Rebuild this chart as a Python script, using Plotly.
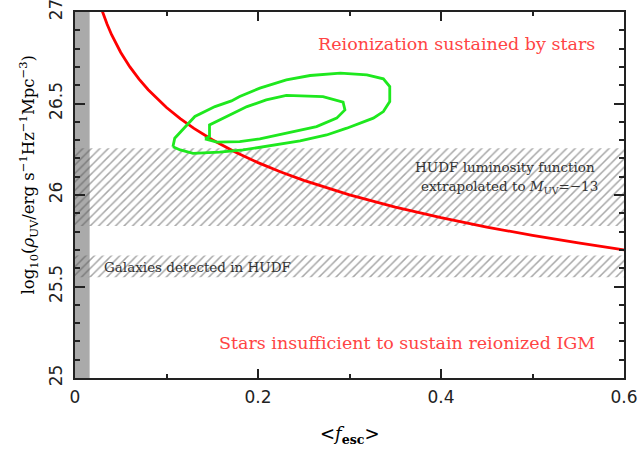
import plotly.graph_objects as go

# Red curve: stars sustaining reionization
curve_fesc = [0.029, 0.03, 0.035, 0.04, 0.045, 0.05, 0.06, 0.07, 0.08, 0.09, 0.10, 0.115, 0.13, 0.15, 0.175,
              0.2, 0.225, 0.25, 0.275, 0.3, 0.35, 0.4, 0.45, 0.5, 0.55, 0.6]
curve_logrho = [27.016, 27.001, 26.934, 26.876, 26.825, 26.779, 26.700, 26.633, 26.575, 26.524, 26.478, 26.417,
                26.364, 26.302, 26.235, 26.177, 26.126, 26.080, 26.039, 26.001, 25.934, 25.876, 25.825, 25.779,
                25.738, 25.700]

# Outer green contour
outer_fesc = [0.107, 0.109, 0.131, 0.153, 0.171, 0.180, 0.202, 0.231, 0.257, 0.290, 0.319, 0.337, 0.344, 0.344, 0.337, 0.326, 0.297, 0.275, 0.246, 0.220, 0.184, 0.158, 0.129, 0.115, 0.107]
outer_logrho = [26.264, 26.310, 26.429, 26.483, 26.514, 26.538, 26.584, 26.629, 26.653, 26.666, 26.657, 26.635, 26.593, 26.511, 26.456, 26.420, 26.365, 26.328, 26.296, 26.274, 26.246, 26.234, 26.228, 26.246, 26.264]

# Inner green contour
inner_fesc = [0.142, 0.147, 0.147, 0.166, 0.188, 0.209, 0.231, 0.271, 0.293, 0.295, 0.286, 0.264, 0.231, 0.202, 0.180, 0.155, 0.142]
inner_logrho = [26.307, 26.319, 26.383, 26.429, 26.483, 26.520, 26.544, 26.538, 26.507, 26.465, 26.420, 26.374, 26.338, 26.307, 26.292, 26.289, 26.307]

# Hatched bands (lower, upper) in log10 rho
band_extrap = [25.83, 26.255]
band_detected = [25.55, 25.67]
grey_band_fesc = [0.0, 0.016]

x_ticks = [0, 0.2, 0.4, 0.6]
x_ticklabels = ["0", "0.2", "0.4", "0.6"]
y_ticks = [25, 25.5, 26, 26.5, 27]
y_ticklabels = ["25", "25.5", "26", "26.5", "27"]

SERIF = "DejaVu Serif"

fig = go.Figure()

# grey vertical band
fig.add_shape(type="rect", xref="x", yref="y", x0=grey_band_fesc[0], x1=grey_band_fesc[1],
              y0=25, y1=27, fillcolor="#aaaaaa", line_width=0, layer="below")

for lo, hi in (band_extrap, band_detected):
    fig.add_trace(go.Scatter(
        x=[0, 0.6, 0.6, 0, 0], y=[lo, lo, hi, hi, lo],
        mode="lines", line=dict(width=0, color="rgba(0,0,0,0)"),
        fill="toself", fillcolor="rgba(0,0,0,0)",
        fillpattern=dict(shape="/", size=6, solidity=0.25, fgcolor="#505050"),
        hoverinfo="skip", showlegend=False))

fig.add_trace(go.Scatter(x=curve_fesc, y=curve_logrho, mode="lines",
                         line=dict(color="#ff0000", width=2.8), showlegend=False))
fig.add_trace(go.Scatter(x=outer_fesc, y=outer_logrho, mode="lines",
                         line=dict(color="#1ee81e", width=2.8), showlegend=False))
fig.add_trace(go.Scatter(x=inner_fesc, y=inner_logrho, mode="lines",
                         line=dict(color="#1ee81e", width=2.8), showlegend=False))

annots = [
    dict(x=0.57, y=26.826, text="Reionization sustained by stars", xanchor="right",
         font=dict(family=SERIF, size=17.5, color="#ff4444")),
    dict(x=0.57, y=25.19, text="Stars insufficient to sustain reionized IGM", xanchor="right",
         font=dict(family=SERIF, size=17.5, color="#ff4444")),
    dict(x=0.571, y=26.155, text="HUDF luminosity function", xanchor="right",
         font=dict(family=SERIF, size=13.5, color="#333333")),
    dict(x=0.574, y=26.044, text="extrapolated to <i>M</i><sub>UV</sub>=−13", xanchor="right",
         font=dict(family=SERIF, size=13.5, color="#333333")),
    dict(x=0.030, y=25.604, text="Galaxies detected in HUDF", xanchor="left",
         font=dict(family=SERIF, size=13.5, color="#333333")),
]
for a in annots:
    fig.add_annotation(xref="x", yref="y", showarrow=False, yanchor="middle", **a)

fig.add_annotation(xref="paper", yref="paper", x=-0.085, y=0.557, xanchor="center", yanchor="middle",
                   textangle=-90, showarrow=False,
                   text="log<sub>10</sub>(<i>ρ</i><sub>UV</sub>/erg s<sup>−1</sup>Hz<sup>−1</sup>Mpc<sup>−3</sup>)",
                   font=dict(family=SERIF, size=16.5, color="black"))
fig.add_annotation(xref="paper", yref="paper", x=0.5, y=-0.155, xanchor="center", yanchor="middle",
                   showarrow=False, text="&lt;<i>f</i><sub><b>esc</b></sub>&gt;",
                   font=dict(family=SERIF, size=18, color="black"))

fig.update_layout(
    width=640, height=454,
    margin=dict(l=75, r=16, t=12, b=76),
    plot_bgcolor="white", paper_bgcolor="white",
    showlegend=False,
)
fig.update_xaxes(range=[0, 0.6], tickvals=x_ticks, ticktext=x_ticklabels, automargin=False,
                 ticks="inside", ticklen=9, tickwidth=1.5, tickcolor="#222",
                 minor=dict(dtick=0.1, ticks="inside", ticklen=4, tickwidth=1.5, tickcolor="#222"),
                 showline=True, linecolor="#222", linewidth=2, mirror="allticks",
                 showgrid=False, zeroline=False, ticklabeloverflow="allow", ticklabelstandoff=3,
                 tickfont=dict(family="DejaVu Sans", size=17, color="#222"))
fig.update_yaxes(range=[25, 27], tickvals=y_ticks, ticktext=y_ticklabels, automargin=False,
                 ticks="inside", ticklen=10, tickwidth=1.5, tickcolor="#222",
                 minor=dict(dtick=0.1, ticks="inside", ticklen=5, tickwidth=1.5, tickcolor="#222"),
                 showline=True, linecolor="#222", linewidth=2, mirror="allticks",
                 showgrid=False, zeroline=False, tickangle=-90, ticklabeloverflow="allow",
                 ticklabelstandoff=4,
                 tickfont=dict(family="DejaVu Sans", size=17, color="#222"))

fig.write_html("out.html", post_script="document.body.style.margin='0';",
               config={"displayModeBar": False})
